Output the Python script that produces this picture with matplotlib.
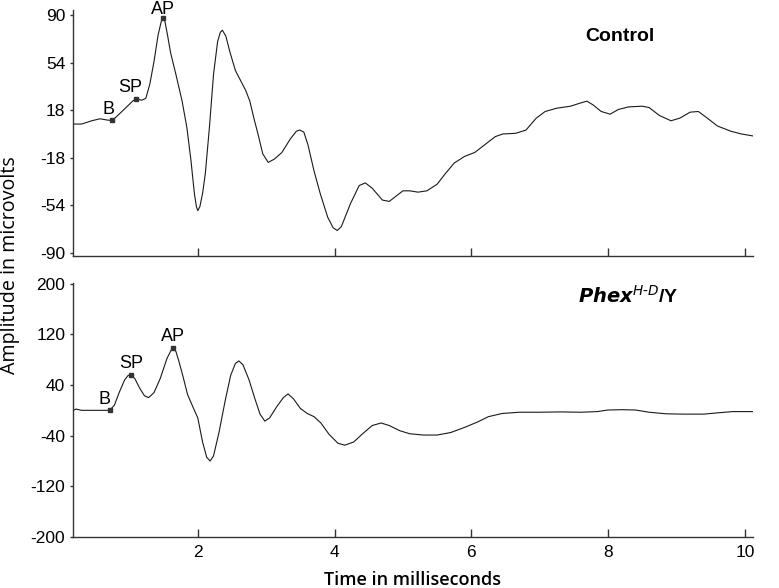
import numpy as np
import matplotlib
matplotlib.use("Agg")
from matplotlib import pyplot as plt

plt.rcParams["font.family"] = ["Liberation Sans", "DejaVu Sans"]
plt.rcParams["axes.unicode_minus"] = False

# Control trace (time in ms, amplitude in microvolts)
ctrl_t = [0.18, 0.30, 0.45, 0.57, 0.68, 0.75, 0.85, 0.95, 1.05, 1.10, 1.18, 1.24,
          1.30, 1.36, 1.42, 1.47, 1.49, 1.52, 1.56, 1.60, 1.68, 1.77, 1.84, 1.90,
          1.95, 1.98, 2.00, 2.03, 2.07, 2.11, 2.17, 2.23, 2.29, 2.33, 2.36, 2.41,
          2.47, 2.55, 2.62, 2.70, 2.76, 2.82, 2.88, 2.95, 3.03, 3.12, 3.23, 3.35,
          3.44, 3.49, 3.55, 3.61, 3.70, 3.79, 3.90, 3.98, 4.04, 4.10, 4.23, 4.36,
          4.45, 4.55, 4.70, 4.80, 4.90, 5.00, 5.10, 5.22, 5.35, 5.50, 5.62, 5.75,
          5.90, 6.05, 6.20, 6.35, 6.46, 6.65, 6.80, 6.95, 7.08, 7.25, 7.45, 7.60,
          7.69, 7.78, 7.90, 8.03, 8.15, 8.30, 8.50, 8.60, 8.75, 8.92, 9.05, 9.20,
          9.32, 9.45, 9.60, 9.80, 9.95, 10.12]
ctrl_v = [7.5, 7.5, 10, 11.5, 10.5, 10.2, 15, 20, 25, 26.7, 25.5, 27,
          38, 55, 75, 86, 88, 85, 74, 62, 45, 25, 5, -20,
          -45, -55, -58, -55, -45, -30, 5, 45, 70, 77, 78.5, 74,
          62, 48, 41, 33, 25, 12, 0, -15, -21.5, -19, -14, -4,
          2, 3, 1.5, -8, -28, -45, -63, -71, -73, -70, -53, -39,
          -37, -41, -50, -51, -47, -43, -43, -44, -43, -38, -30, -22,
          -17, -14, -8, -2, 0, 0.5, 3, 12, 17, 19.5, 21, 23.5,
          24.8, 22, 17, 15, 18.5, 20.5, 21, 20, 14, 10, 12, 16.5,
          17, 12, 6, 2, 0, -1.5]

# Phex H-D/Y trace
phex_t = [0.18, 0.22, 0.30, 0.50, 0.71, 0.78, 0.85, 0.93, 0.98, 1.02, 1.08, 1.15,
          1.22, 1.28, 1.36, 1.45, 1.55, 1.61, 1.64, 1.68, 1.73, 1.78, 1.85, 1.93,
          2.00, 2.07, 2.13, 2.18, 2.23, 2.31, 2.40, 2.48, 2.55, 2.60, 2.66, 2.75,
          2.83, 2.91, 2.98, 3.05, 3.15, 3.25, 3.32, 3.40, 3.50, 3.60, 3.70, 3.80,
          3.92, 4.05, 4.15, 4.28, 4.40, 4.55, 4.68, 4.80, 4.95, 5.10, 5.30, 5.50,
          5.70, 5.90, 6.10, 6.25, 6.45, 6.70, 7.00, 7.30, 7.60, 7.84, 8.00, 8.20,
          8.40, 8.60, 8.85, 9.10, 9.40, 9.60, 9.82, 10.12]
phex_v = [0, 2, 0, 0, 0, 8, 28, 48, 55, 56, 50, 35,
          23, 20, 28, 50, 82, 95, 98, 93, 75, 55, 25, 5,
          -12, -50, -74, -80, -72, -35, 15, 55, 74, 78, 72, 48,
          20, -6, -17, -12, 5, 20, 26, 18, 3, -5, -10, -20,
          -38, -52, -55, -50, -38, -24, -20, -24, -32, -37, -39, -39,
          -35, -27, -18, -10, -5, -3, -3, -2.5, -3, -2, 0.5, 1,
          0.5, -3, -5.5, -6, -6, -4, -2, -2]

peak_names = ["B", "SP", "AP"]
ctrl_peaks = [0.75, 1.10, 1.49]
phex_peaks = [0.71, 1.02, 1.64]

x_ticks = [2, 4, 6, 8, 10]
ctrl_yticks = [-90, -54, -18, 18, 54, 90]
phex_yticks = [-200, -120, -40, 40, 120, 200]

fig = plt.figure(figsize=(7.79, 5.88), dpi=100)
ax1 = fig.add_axes([0.0937, 0.5653, 0.873, 0.4182])
ax2 = fig.add_axes([0.0937, 0.0867, 0.873, 0.432])

panels = [
    (ax1, ctrl_t, ctrl_v, ctrl_peaks, (-92, 94), ctrl_yticks,
     [(-3, 2), (-4, 2), (0, -0.5)]),
    (ax2, phex_t, phex_v, phex_peaks, (-200, 201), phex_yticks,
     [(-4, 2), (0, 2), (0, 2)]),
]

for ax, t, v, peaks, ylim, yticks, offsets in panels:
    ax.plot(t, v, color="#1a1a1a", lw=0.8)
    py = np.interp(peaks, t, v)
    ax.plot(peaks, py, ls="none", marker="s", ms=3.5, color="#333333")
    for name, px_, py_, off in zip(peak_names, peaks, py, offsets):
        ax.annotate(name, (px_, py_), xytext=off, textcoords="offset points",
                    ha="center", va="bottom", fontsize=13)
    ax.set_xlim(0.175, 10.12)
    ax.set_ylim(*ylim)
    ax.set_xticks(x_ticks)
    ax.set_yticks(yticks)
    for s in ["top", "right"]:
        ax.spines[s].set_visible(False)
    for s in ["left", "bottom"]:
        ax.spines[s].set_color("#333333")
        ax.spines[s].set_linewidth(1.0)
    ax.tick_params(axis="y", direction="out", length=2.5, width=1.0,
                   color="#333333", labelsize=12.5, pad=3)
    ax.tick_params(axis="x", direction="in", length=6, width=1.0,
                   color="#333333", labelsize=12.5, pad=6)

ax1.tick_params(axis="x", labelbottom=False)

ax1.text(0.804, 0.893, "Control", transform=ax1.transAxes, ha="center",
         va="center", fontsize=14, fontweight="bold")
ax2.text(0.816, 0.95, r"$\boldsymbol{Phex}^{\mathit{H\text{-}D}}$/Y", transform=ax2.transAxes,
         ha="center", va="center", fontsize=14, fontweight="bold")

fig.text(0.013, 0.549, "Amplitude in microvolts", rotation=90, ha="center",
         va="center", fontsize=14.2, family=["Open Sans", "DejaVu Sans"])
fig.text(0.53, 0.0136, "Time in milliseconds", ha="center", va="center",
         fontsize=13, fontweight="semibold", family=["Open Sans", "DejaVu Sans"])

fig.savefig("out.png", dpi=100)
